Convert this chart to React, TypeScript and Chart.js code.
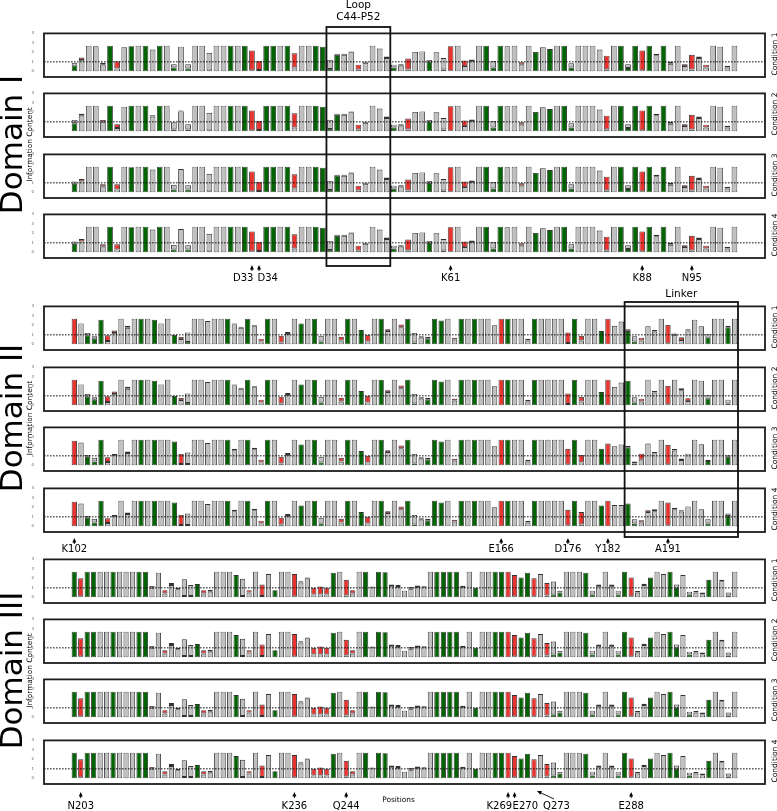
import React, { useEffect, useRef } from "react";
import { Chart, registerables } from "chart.js";
Chart.register(...registerables);

const FONT = "'DejaVu Sans', 'Liberation Sans', Arial, sans-serif";
const PAGE_W = 777;
const PAGE_H = 811;
const PANEL_H = 46;
const Y_MIN = -0.6;
const Y_MAX = 4;
const Y_TICKS = [0, 1, 2, 3, 4];
const FULL = 2.7;
const COLORS: Record<string, string> = { a: "#c0c0c0", g: "#006400", r: "#e8332e" };

// Token per position: segments from the bottom, letter = colour (a gray, g green, r red), number = top of segment.
// "A" / "G" / "R" = a single full-height bar of that colour.
const D1C1 = ["g.6a.9","a1.2r1.45","A","a2.65","a.7r.9","G","a.3r1.05","a2.55","g2.65","A",
 "G","a2.3","G","A","g.4a.75","a2.6","g.3a.75","A","A","g.1a1.95",
 "A","A","G","A","G","a.1r2.2","a.15r1.1","G","G","A",
 "G","a.4r1.9","A","A","G","g2.6","g.25a1.2","g1.75r1.85","a1.75r1.85","a2.0r2.1",
 "a.2r.7","a.9r1.0","A","a2.4","a1.4r1.55","g.4a.7","a.6r.75","a.2r1.35","a2.05","a2.1",
 "g1.0a1.2","a2.0","g.2a1.4","a.05r2.65","A","a.55r1.15","a1.1r1.25","A","G","g.4a1.1",
 "G","a2.65","A","a.7r.95","A","g2.05","a2.55","g2.35","A","G",
 "g.4a.85","A","A","A","a2.3","a.2r1.65","A","G","g.35a.75","G",
 "a.1r2.2","G","a1.7r1.85","G","a.8r1.0","A","a.55r.75","a.2r1.75","a1.4r1.55","a.4r.7",
 "A","a2.6","a.4r.6","A"];
const D1C2 = ["g.85a1.2","a1.65r1.85","A","A","a1.0r1.2","G","a.35r.75","a2.6","G","A",
 "G","a1.55r1.7","G","A","g.2a.95","a2.1r2.2","g.2a.75","A","A","g.1a1.95",
 "A","A","G","A","G","a.1r2.2","a.15r1.1","G","G","A",
 "G","a.4r1.9","A","A","G","g2.6","g.25a1.2","g1.75r1.85","a1.75r1.85","a2.0r2.1",
 "a.2r.7","a.9r1.0","A","a2.4","a1.4r1.55","g.4a.7","a.6r.75","a.2r1.35","a2.05","a2.1",
 "g1.0a1.2","a2.0","g.2a1.4","a.05r2.65","A","a.55r1.15","a1.1r1.25","A","G","g.4a1.1",
 "G","a2.65","A","a.7r.95","A","g2.05","a2.55","g2.35","A","G",
 "g.4a.85","A","A","A","a2.3","a.2r1.65","A","G","g.35a.75","G",
 "a.1r2.2","G","a1.7r1.85","G","a.8r1.0","A","a.55r.75","a.2r1.75","a1.4r1.55","a.4r.7",
 "A","a2.6","a.4r.6","A"];
const D1C3 = ["g.9a1.15","a1.15r1.4","A","A","a.6r.85","G","a.3r.85","A","g2.65","A",
 "G","a2.4","G","A","g.3a.8","a2.45","g.3a.75","A","A","g.1a1.95",
 "A","A","G","A","G","a.1r2.2","a.15r1.1","G","G","A",
 "G","a.4r1.9","A","A","G","g2.6","g.25a1.2","g1.75r1.85","a1.75r1.85","a2.0r2.1",
 "a.2r.7","a.9r1.0","A","a2.4","a1.4r1.55","g.4a.7","a.6r.75","a.2r1.35","a2.05","a2.1",
 "g1.0a1.2","a2.0","g.2a1.4","a.05r2.65","A","a.55r1.15","a1.1r1.25","A","G","g.4a1.1",
 "G","a2.65","A","a.7r.95","A","g2.05","a2.55","g2.35","A","G",
 "g.4a.85","A","A","A","a2.3","a.2r1.65","A","G","g.35a.75","G",
 "a.1r2.2","G","a1.7r1.85","G","a.8r1.0","A","a.55r.75","a.2r1.75","a1.4r1.55","a.4r.7",
 "A","a2.6","a.4r.6","A"];
const D1C4 = ["g.9a1.15","a1.15r1.4","A","A","a.6r.85","G","a.3r.85","A","g2.65","A",
 "G","a2.4","G","A","g.3a.8","a2.45","g.3a.75","A","A","g.1a1.95",
 "A","A","G","A","G","a.1r2.2","a.15r1.1","G","G","A",
 "G","a.4r1.9","A","A","G","g2.6","g.25a1.2","g1.75r1.85","a1.75r1.85","a2.0r2.1",
 "a.2r.7","a.9r1.0","A","a2.4","a1.4r1.55","g.4a.7","a.6r.75","a.2r1.35","a2.05","a2.1",
 "g1.0a1.2","a2.0","g.2a1.4","a.05r2.65","A","a.55r1.15","a1.1r1.25","A","G","g.4a1.1",
 "G","a2.65","A","a.7r.95","A","g2.05","a2.55","g2.35","A","G",
 "g.4a.85","A","A","A","a2.3","a.2r1.65","A","G","g.35a.75","G",
 "a.1r2.2","G","a1.7r1.85","G","a.8r1.0","A","a.55r.75","a.2r1.75","a1.4r1.55","a.4r.7",
 "A","a2.6","a.4r.6","A"];

const D2C1 = ["r2.7","a2.2","g.95a1.2","g.6a.85","g2.6","a.35r.95","a1.2r1.45","A","a1.75r1.95","A",
 "G","A","g2.6","a2.2","A","g1.0","a.55r.8","g.25a1.25","A","A",
 "a2.45","A","A","G","a2.1r2.2","a1.75r1.85","G","a1.9r2.0",
 "a.3r.6","G","A","a.2r.9","a1.1r1.3","A","g2.2","A","G","g.3a.9","A","A","a.4r.8","G","A","g1.5","a.3r1.0","A","G","a1.4r1.6","A",
 "a1.8r2.1","G","g.2a1.2","a.7r.85","g.6a.8","G","g2.5","A","a.5r.7","G","A","G","A","A","a2.0","R","G","A","A","a.4r.6","G","A","A","A",
 "A","a.15r1.25","G","a.4r.9","A","A","g1.4","R","a1.95","a2.4","g1.4a1.6","g.3a.85","a.4r.7","a1.9","a1.35r1.5","A","a.1r2.05","a1.0r1.15","a.45r.75","a1.45r1.6","a2.6","a1.9","g.7a1.05","A","A","g1.8a1.95","A"];
const D2C2 = ["r2.7","a2.2","g.95a1.2","g.6a.85","g2.6","a.35r.95","a1.2r1.45","A","a1.75r1.95","A",
 "G","A","g2.6","a2.2","A","g1.0","a.55r.8","g.25a1.25","A","A",
 "a2.45","A","A","G","a2.1r2.2","a1.75r1.85","G","a1.9r2.0",
 "a.3r.6","G","A","a.2r.9","a1.1r1.3","A","g2.2","A","G","g.3a.9","A","A","a.4r.8","G","A","g1.5","a.3r1.0","A","G","a1.4r1.6","A",
 "a1.8r2.1","G","g.2a1.2","a.7r.85","g.6a.8","G","g2.5","A","a.5r.7","G","A","G","A","A","a2.0","R","G","A","A","a.4r.6","G","A","A","A",
 "A","a.15r1.25","G","a.4r.9","A","A","g1.4","R","a1.95","a2.4","g2.6","g.3a.85","a.4r.7","A","a1.35r1.5","A","a.1r2.05","A","a1.6r1.8","a.45r.75","A","a2.6","g.7a1.05","A","A","g.2a.6","A"];
const D2C3 = ["r2.6","a2.4","g.9a1.1","g.4a.8","G","a.35r.85","a1.1r1.2","A","a1.3r1.45","A",
 "G","A","G","A","A","g2.5","a.15r1.2","g.15a1.35","A","A",
 "a2.35","A","A","G","a1.6r1.75","A","G","a1.7r1.85",
 "a.3r.6","G","A","a.2r.9","a1.1r1.3","A","g2.2","A","G","g.3a.9","A","A","a.4r.8","G","A","g1.5","a.3r1.0","A","G","a1.4r1.6","A",
 "a1.8r2.1","G","g.2a1.2","a.7r.85","g.6a.8","G","g2.5","A","a.5r.7","G","A","G","A","A","a2.0","R","G","A","A","a.4r.6","G","A","A","A",
 "A","a.1r1.75","G","a.3r1.1","A","A","g1.75","a.1r2.3","a2.0","a2.2","g1.9a2.07","g.2a.4","a.6r1.23","a2.3","a1.25r1.4","A","a.1r2.17","a1.55r1.73","a.55r.73","a1.23","A","a2.23","g.45a.6","A","A","g.9a1.07","A"];
const D2C4 = ["r2.6","a2.4","g.9a1.1","g.4a.8","G","a.35r.85","a1.1r1.2","A","a1.3r1.45","A",
 "G","A","G","A","A","g2.5","a.15r1.2","g.15a1.35","A","A",
 "a2.35","A","A","G","a1.6r1.75","A","G","a1.7r1.85",
 "a.3r.6","G","A","a.2r.9","a1.1r1.3","A","g2.2","A","G","g.3a.9","A","A","a.4r.8","G","A","g1.5","a.3r1.0","A","G","a1.4r1.6","A",
 "a1.8r2.1","G","g.2a1.2","a.7r.85","g.6a.8","G","g2.5","A","a.5r.7","G","A","G","A","A","a2.0","R","G","A","A","a.4r.6","G","A","A","A",
 "A","a.1r1.75","G","a.2r1.5","A","A","g2.2","R","a2.25","a2.25","g2.4","g.3a.75","a.4r.65","a1.5r1.7","a1.6r1.8","A","a.1r2.5","a1.8r1.95","a1.55r1.7","a2.1","A","a1.8","g.3a.75","A","A","g1.1a1.35","A"];

const D3C4 = ["G","a.1r2.0","G","G","A","A","G","A","A","A",
 "G","G","a1.0r1.2","a2.6","a.4r.75","a1.3r1.5","a.85r1.0","g.15a1.9","g.15a1.3","g1.4",
 "a.4r.75","a.6r.8","A","A","A","g2.35","g.15a1.95","a.5r.75","A","a.15r1.35",
 "a2.45","g.75","A","A","a.1r2.45","a1.55r1.7","a2.0r2.1","a.3r1.0","a.3r1.15","a.3r1.0",
 "g2.6","A","a.2r1.85","a.4r.75","A","G","a1.05r1.15","G","g2.65","a1.2r1.35",
 "a1.1r1.3","a.7","a.9r1.1","a1.1r1.25","a1.05r1.17","A","G","G","G","G",
 "a1.1r1.23","A","g1.0","A","A","G","G","R","a.1r2.35","g2.1",
 "g2.6","a.1r2.0","a2.45","a.2r1.5","g.3a1.67","g.5a.7","A","A","A","g2.6",
 "g.3a.7","a1.2r1.35","A","a1.2r1.35","g.3a.7","G","a.1r2.1","a.5r.67","a1.3r1.43","g2.1",
 "A","a2.45","G","g1.0a1.35","a2.35","g.3a.6","a.5r.67","a.3r.5","g1.85","A",
 "a1.7r1.85","g.2a.5","A"];
const D3C1 = ["G","a.1r2.0","G","G","A","A","G","A","A","A",
 "G","G","a1.0r1.2","a2.6","a.4r.75","a1.3r1.5","a.85r1.0","g.15a1.9","g.15a1.3","g1.4",
 "a.4r.75","a.6r.8","A","A","A","g2.35","g.15a1.95","a.5r.75","A","a.15r1.35",
 "a2.45","g.75","A","A","a.1r2.45","a1.55r1.7","a2.0r2.1","a.3r1.0","a.3r1.15","a.3r1.0",
 "g2.6","A","a.2r1.85","a.4r.75","A","G","a1.05r1.15","G","g2.65","a1.2r1.35",
 "a1.1r1.3","a.7","a.9r1.1","a1.1r1.25","a1.05r1.17","A","G","G","G","G",
 "a1.1r1.23","A","g1.0","A","A","G","G","R","a.1r2.35","g2.1",
 "g2.6","a.1r2.0","a2.45","a.2r1.5","g.3a1.67","g.5a.7","A","A","A","g2.6",
 "g.3a.7","a1.2r1.35","A","a1.2r1.35","g.3a.7","G","a.1r2.1","a.5r.67","a1.3r1.43","g2.1",
 "A","a2.45","G","g1.0a1.35","a2.35","g.3a.6","a.5r.67","a.3r.5","g1.85","A",
 "a1.7r1.85","g.2a.5","A"];
const D3C2 = ["G","a.1r2.0","G","G","A","A","G","A","A","A",
 "G","G","a1.0r1.2","a2.6","a.4r.75","a1.3r1.5","a.85r1.0","g.15a1.9","g.15a1.3","g1.4",
 "a.4r.75","a.6r.8","A","A","A","g2.35","g.15a1.95","a.5r.75","A","a.15r1.35",
 "a2.45","g.75","A","A","a.1r2.45","a1.55r1.7","a2.0r2.1","a.3r1.0","a.3r1.15","a.3r1.0",
 "g2.6","A","a.2r1.85","a.4r.75","A","G","a1.05r1.15","G","g2.65","a1.2r1.35",
 "a1.1r1.3","a.7","a.9r1.1","a1.1r1.25","a1.05r1.17","A","G","G","G","G",
 "a1.1r1.23","A","g1.0","A","A","G","G","R","a.1r2.35","g2.1",
 "g2.6","a.1r2.0","a2.45","a.2r1.5","g.3a1.67","g.5a.7","A","A","A","g2.6",
 "g.3a.7","a1.2r1.35","A","a1.2r1.35","g.3a.7","G","a.1r2.1","a.5r.67","a1.3r1.43","g2.1",
 "A","a2.45","G","g1.0a1.35","a2.35","g.3a.6","a.5r.67","a.3r.5","g1.85","A",
 "a1.7r1.85","g.2a.5","A"];
const D3C3 = ["G","a.1r2.0","G","G","A","A","G","A","A","A",
 "G","G","a1.0r1.2","a2.6","a.4r.75","a1.3r1.5","a.85r1.0","g.15a1.9","g.15a1.3","g1.4",
 "a.4r.75","a.6r.8","A","A","A","g2.35","g.15a1.95","a.5r.75","A","a.15r1.35",
 "a2.45","g.75","A","A","a.1r2.45","a1.55r1.7","a2.0r2.1","a.3r1.0","a.3r1.15","a.3r1.0",
 "g2.6","A","a.2r1.85","a.4r.75","A","G","a1.05r1.15","G","g2.65","a1.2r1.35",
 "a1.1r1.3","a.7","a.9r1.1","a1.1r1.25","a1.05r1.17","A","G","G","G","G",
 "a1.1r1.23","A","g1.0","A","A","G","G","R","a.1r2.35","g2.1",
 "g2.6","a.1r2.0","a2.45","a.2r1.5","g.3a1.67","g.5a.7","A","A","A","g2.6",
 "g.3a.7","a1.2r1.35","A","a1.2r1.35","g.3a.7","G","a.1r2.1","a.5r.67","a1.3r1.43","g2.1",
 "A","a2.45","G","g1.0a1.35","a2.35","g.3a.6","a.5r.67","a.3r.5","g1.85","A",
 "a1.7r1.85","g.2a.5","A"];

const D1_MARK_POS = [33, 34, 61, 88, 95];
const D1_MARK_TXT = ["D33", "D34", "K61", "K88", "N95"];
const D2_MARK_POS = [102, 166, 176, 182, 191];
const D2_MARK_TXT = ["K102", "E166", "D176", "Y182", "A191"];
const D3_MARK_POS = [203, 236, 244, 269, 270, 273, 288];
const D3_MARK_TXT = ["N203", "K236", "Q244", "K269", "E270", "Q273", "E288"];
const D3_MARK_DIAG = ["Q273"];
const LOOP_RANGE = [44, 52];
const LINKER_RANGE = [185, 201];

const DOMAINS = [
  { name: "Domain I", start: 8, tops: [31, 91, 152, 212], panels: [D1C1, D1C2, D1C3, D1C4],
    markPos: D1_MARK_POS, markTxt: D1_MARK_TXT, arrowTop: 265, arrowBot: 271, textY: 278, pairR: 1.5, pairL: -1.5 },
  { name: "Domain II", start: 102, tops: [304, 365, 425, 486], panels: [D2C1, D2C2, D2C3, D2C4],
    markPos: D2_MARK_POS, markTxt: D2_MARK_TXT, arrowTop: 538, arrowBot: 544, textY: 549.5, pairR: 1.5, pairL: -1.5 },
  { name: "Domain III", start: 202, tops: [557, 617, 677, 738], panels: [D3C1, D3C2, D3C3, D3C4],
    markPos: D3_MARK_POS, markTxt: D3_MARK_TXT, arrowTop: 792, arrowBot: 798, textY: 806, pairR: 4, pairL: -2 },
];

type Seg = { c: string; lo: number; hi: number };
function parseToken(tok: string): Seg[] {
  if (/^[AGR]$/.test(tok)) return [{ c: tok.toLowerCase(), lo: 0, hi: FULL }];
  const out: Seg[] = [];
  let prev = 0;
  const re = /([agr])(\d*\.?\d+)/g;
  let m: RegExpExecArray | null;
  while ((m = re.exec(tok))) {
    const v = parseFloat(m[2]);
    out.push({ c: m[1], lo: prev, hi: v });
    prev = v;
  }
  return out;
}

const framePlugin = {
  id: "panelFrame",
  afterDatasetsDraw(chart: any) {
    const { ctx, chartArea: a, scales } = chart;
    const y1 = scales.y.getPixelForValue(1);
    ctx.save();
    ctx.setLineDash([1.6, 1.4]);
    ctx.lineWidth = 1;
    ctx.strokeStyle = "#111";
    ctx.beginPath();
    ctx.moveTo(a.left, y1);
    ctx.lineTo(a.right, y1);
    ctx.stroke();
    ctx.setLineDash([]);
    ctx.lineWidth = 1.8;
    ctx.strokeStyle = "#1c1c1c";
    ctx.strokeRect(a.left, a.top, a.right - a.left, a.bottom - a.top);
    ctx.restore();
  },
};

function buildChart(canvas: HTMLCanvasElement, start: number, tokens: string[]) {
  const positions = tokens.map((_, i) => start + i);
  const segs = tokens.map(parseToken);
  const n = tokens.length;
  const pad = (27 * n) / 667;
  const datasets = [0, 1, 2].map((lvl) => {
    const data: any[] = [];
    const bg: string[] = [];
    segs.forEach((s, i) => {
      if (s[lvl]) {
        data.push({ x: positions[i], y: [s[lvl].lo, s[lvl].hi] });
        bg.push(COLORS[s[lvl].c]);
      }
    });
    return {
      data,
      backgroundColor: bg,
      borderColor: "#333333",
      borderWidth: 0.9,
      borderSkipped: false,
      grouped: false,
      categoryPercentage: 0.8,
      barPercentage: 1,
    };
  });
  return new Chart(canvas, {
    type: "bar",
    data: { datasets } as any,
    options: {
      animation: false,
      responsive: false,
      maintainAspectRatio: false,
      layout: { padding: { left: 0, right: 12, top: 2, bottom: 0 } },
      plugins: { legend: { display: false }, tooltip: { enabled: false } },
      scales: {
        x: {
          type: "linear",
          offset: false,
          min: start - 0.5 - pad,
          max: start + n - 0.5 + pad,
          grid: { display: false },
          border: { display: false },
          afterBuildTicks: (ax: any) => {
            ax.ticks = positions.map((v) => ({ value: v }));
          },
          afterFit: (ax: any) => {
            ax.height = 7;
          },
          ticks: { autoSkip: false, maxRotation: 90, minRotation: 90, padding: 1, color: "#777", font: { size: 3, family: FONT } },
        },
        y: {
          min: Y_MIN,
          max: Y_MAX,
          grid: { display: false },
          border: { display: false },
          afterBuildTicks: (ax: any) => {
            ax.ticks = Y_TICKS.map((v) => ({ value: v }));
          },
          afterFit: (ax: any) => {
            ax.width = 44;
          },
          ticks: { padding: 2, color: "#666", font: { size: 4, family: FONT } },
        },
      },
    } as any,
    plugins: [framePlugin],
  });
}

function rotText(ctx: CanvasRenderingContext2D, s: string, x: number, y: number, font: string) {
  ctx.save();
  ctx.translate(x, y);
  ctx.rotate(-Math.PI / 2);
  ctx.font = font;
  ctx.textAlign = "center";
  ctx.textBaseline = "alphabetic";
  ctx.fillText(s, 0, 0);
  ctx.restore();
}

function arrowHead(ctx: CanvasRenderingContext2D, x: number, y: number, angle: number) {
  ctx.save();
  ctx.translate(x, y);
  ctx.rotate(angle);
  ctx.beginPath();
  ctx.moveTo(0, 0);
  ctx.lineTo(4.5, -2);
  ctx.lineTo(4.5, 2);
  ctx.closePath();
  ctx.fill();
  ctx.restore();
}

function drawOverlay(cv: HTMLCanvasElement, charts: Chart[]) {
  const dpr = window.devicePixelRatio || 1;
  cv.width = PAGE_W * dpr;
  cv.height = PAGE_H * dpr;
  const ctx = cv.getContext("2d")!;
  ctx.setTransform(dpr, 0, 0, dpr, 0, 0);
  ctx.clearRect(0, 0, PAGE_W, PAGE_H);
  ctx.fillStyle = "#000";
  ctx.strokeStyle = "#000";

  DOMAINS.forEach((d, di) => {
    const chart: any = charts[di * 4];
    if (!chart) return;
    const X = (p: number) => chart.scales.x.getPixelForValue(p);
    const cy = (d.tops[0] + d.tops[3] + PANEL_H) / 2;
    ctx.fillStyle = "#000";
    rotText(ctx, d.name, 21.5, cy, `31px ${FONT}`);
    rotText(ctx, "Information Content", 31.5, cy, `7.4px ${FONT}`);
    d.tops.forEach((t, i) => rotText(ctx, `Condition ${i + 1}`, 776.8, t + PANEL_H / 2, `7.5px ${FONT}`));

    ctx.font = `10px ${FONT}`;
    ctx.textBaseline = "middle";
    d.markPos.forEach((p, i) => {
      const x = X(p);
      const label = d.markTxt[i];
      if (D3_MARK_DIAG.includes(label)) {
        const hx = x + 3, hy = d.arrowTop - 1;
        const tx = x + 20, ty = d.arrowBot + 1;
        ctx.lineWidth = 0.9;
        ctx.beginPath();
        ctx.moveTo(tx, ty);
        ctx.lineTo(hx + 2, hy + 1);
        ctx.stroke();
        arrowHead(ctx, hx, hy, Math.atan2(ty - hy, tx - hx));
        ctx.textAlign = "left";
        ctx.fillText(label, x + 9, d.textY);
        return;
      }
      ctx.lineWidth = 1;
      ctx.beginPath();
      ctx.moveTo(x, d.arrowTop + 3);
      ctx.lineTo(x, d.arrowBot);
      ctx.stroke();
      arrowHead(ctx, x, d.arrowTop, Math.PI / 2);
      const nextAdj = d.markPos[i + 1] === p + 1;
      const prevAdj = d.markPos[i - 1] === p - 1;
      if (nextAdj) {
        ctx.textAlign = "right";
        ctx.fillText(label, x + d.pairR, d.textY);
      } else if (prevAdj) {
        ctx.textAlign = "left";
        ctx.fillText(label, x + d.pairL, d.textY);
      } else {
        ctx.textAlign = "center";
        ctx.fillText(label, x, d.textY);
      }
    });
  });

  // Loop box (Domain I)
  const c1: any = charts[0];
  if (c1) {
    const l = c1.scales.x.getPixelForValue(LOOP_RANGE[0] - 0.5);
    const r = c1.scales.x.getPixelForValue(LOOP_RANGE[1] + 0.5);
    ctx.lineWidth = 1.8;
    ctx.strokeStyle = "#111";
    ctx.strokeRect(l, 27, r - l, 266 - 27);
    ctx.font = `10.5px ${FONT}`;
    ctx.textAlign = "center";
    ctx.textBaseline = "middle";
    ctx.fillText("Loop", (l + r) / 2, 5.5);
    ctx.fillText(`C${LOOP_RANGE[0]}-P${LOOP_RANGE[1]}`, (l + r) / 2, 17);
  }
  const c2: any = charts[4];
  if (c2) {
    const l = c2.scales.x.getPixelForValue(LINKER_RANGE[0] - 0.5);
    const r = c2.scales.x.getPixelForValue(LINKER_RANGE[1] + 0.5);
    ctx.lineWidth = 1.8;
    ctx.strokeRect(l, 302, r - l, 537 - 302);
    ctx.font = `10.5px ${FONT}`;
    ctx.textAlign = "center";
    ctx.textBaseline = "middle";
    ctx.fillText("Linker", (l + r) / 2, 294);
  }
  ctx.font = `7.4px ${FONT}`;
  ctx.textAlign = "center";
  ctx.textBaseline = "middle";
  ctx.fillText("Positions", 398.5, 800);
}

export default function App() {
  const canvasRefs = useRef<(HTMLCanvasElement | null)[]>([]);
  const overlayRef = useRef<HTMLCanvasElement | null>(null);

  useEffect(() => {
    const charts: Chart[] = [];
    let k = 0;
    DOMAINS.forEach((d) =>
      d.panels.forEach((tokens) => {
        const c = canvasRefs.current[k++];
        if (c) charts.push(buildChart(c, d.start, tokens));
      })
    );
    if (overlayRef.current) drawOverlay(overlayRef.current, charts);
    return () => charts.forEach((c) => c.destroy());
  }, []);

  const canvases: React.ReactNode[] = [];
  let idx = 0;
  DOMAINS.forEach((d) =>
    d.tops.forEach((t) => {
      const i = idx++;
      canvases.push(
        <canvas
          key={i}
          ref={(el) => {
            canvasRefs.current[i] = el;
          }}
          width={PAGE_W}
          height={PANEL_H + 9}
          style={{ position: "absolute", left: 0, top: t - 2, width: PAGE_W, height: PANEL_H + 9 }}
        />
      );
    })
  );

  return (
    <div style={{ position: "absolute", left: 0, top: 0, width: PAGE_W, height: PAGE_H, background: "#fff", overflow: "hidden" }}>
      {canvases}
      <canvas
        ref={overlayRef}
        style={{ position: "absolute", left: 0, top: 0, width: PAGE_W, height: PAGE_H, pointerEvents: "none" }}
      />
    </div>
  );
}
